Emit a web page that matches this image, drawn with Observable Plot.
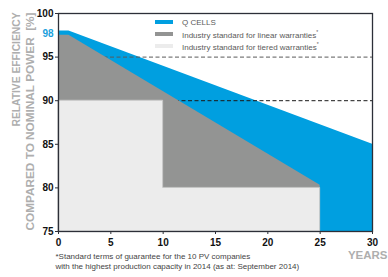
<!DOCTYPE html>
<html><head><meta charset="utf-8">
<script src="https://cdn.jsdelivr.net/npm/d3@7"></script>
<script src="https://cdn.jsdelivr.net/npm/@observablehq/plot@0.6"></script>
<style>
body{margin:0;background:#fff;}
#c{position:relative;width:388px;height:277px;overflow:hidden;font-family:"Liberation Sans",Arial,sans-serif;}
#legend{position:absolute;left:155px;top:16px;font-size:8px;color:#5a5a5a;}
#legend .row{display:flex;align-items:center;height:12px;}
#legend .sw{width:18px;height:4px;margin-right:9px;}
#legend sup{font-size:5px;vertical-align:4px;}
</style>
</head><body>
<div id="c"></div>
<script>
const qcellsYears = [0, 1, 30];
const qcellsValues = [98, 98, 85];
const linearYears = [0, 1, 25];
const linearValues = [97.5, 97.5, 80.3];
const tieredYears = [0, 10, 25];
const tieredValues = [90, 80, 80];
const dashedLevels = [95, 90];
const dashedColors = ["#5a5a5a", "#1a1a1a"];
const xTicks = [0, 5, 10, 15, 20, 25, 30];
const yTicks = [75, 80, 85, 90, 95, 100];
const highlightTick = [98];
const legendLabels = ["Q CELLS", "Industry standard for linear warranties", "Industry standard for tiered warranties"];
const legendColors = ["#009fe0", "#939493", "#ececec"];
const yTitle = ["RELATIVE EFFICIENCY", "COMPARED TO NOMINAL POWER  [%]"];
const xTitle = "YEARS";
const footnote = ["*Standard terms of guarantee for the 10 PV companies", "with the highest production capacity in 2014 (as at: September 2014)"];

const qcells = qcellsYears.map((x, i) => ({x, y: qcellsValues[i]}));
const linear = linearYears.map((x, i) => ({x, y: linearValues[i]}));
const tiered = tieredYears.map((x, i) => ({x, y: tieredValues[i]}));
const dashed = dashedLevels.map((y, i) => ({y, c: dashedColors[i]}));

const plot = Plot.plot({
  width: 388, height: 277,
  marginLeft: 58, marginRight: 16, marginTop: 13, marginBottom: 46,
  style: {fontFamily: "Liberation Sans, Arial, sans-serif", background: "#fff", overflow: "visible"},
  x: {domain: [0, 30]},
  y: {domain: [75, 100]},
  marks: [
    Plot.areaY(qcells, {x: "x", y1: 75, y2: "y", fill: legendColors[0]}),
    ...dashed.map(d => Plot.ruleY([d.y], {x1: 0, x2: 30, stroke: d.c, strokeWidth: 1, strokeDasharray: "4,2.5"})),
    Plot.areaY(linear, {x: "x", y1: 75, y2: "y", fill: legendColors[1]}),
    Plot.areaY(tiered, {x: "x", y1: 75, y2: "y", curve: "step-after", fill: legendColors[2], stroke: "#c6c6c6", strokeWidth: 0.8}),
    Plot.frame({stroke: "#2c2f38", strokeWidth: 1.3}),
    Plot.axisX({ticks: xTicks, tickSize: 3, tickPadding: 4, tickFormat: d => d, fontWeight: "bold", fontSize: 10, fill: "#111", stroke: "#2c2f38", label: null}),
    Plot.axisY({ticks: yTicks, tickSize: 3, tickPadding: 2, tickFormat: d => d, fontWeight: "bold", fontSize: 10, fill: "#111", stroke: "#2c2f38", label: null}),
    Plot.text(highlightTick, {x: 0, y: d => d, text: d => String(d), dx: -5, dy: 3, textAnchor: "end", fill: "#1a9fdc", fontWeight: "bold", fontSize: 10}),
    Plot.text([yTitle[0]], {frameAnchor: "top-left", rotate: -90, textAnchor: "end", dx: -47, dy: -1, fill: "#aeaeae", fontWeight: "bold", fontSize: 11.5, className: "ytitle1"}),
    Plot.text([yTitle[1]], {frameAnchor: "top-left", rotate: -90, textAnchor: "end", dx: -33, dy: -1, fill: "#aeaeae", fontWeight: "bold", fontSize: 11.5, className: "ytitle2"}),
    Plot.text([xTitle], {frameAnchor: "bottom-right", textAnchor: "end", dx: 15, dy: 27, fill: "#aeaeae", fontWeight: "bold", fontSize: 11.5}),
    Plot.text([footnote[0]], {frameAnchor: "bottom-left", textAnchor: "start", dx: -3, dy: 27, fill: "#444", fontSize: 8}),
    Plot.text([footnote[1]], {frameAnchor: "bottom-left", textAnchor: "start", dx: -3, dy: 37.5, fill: "#444", fontSize: 8})
  ]
});
// stretch the two rotated title lines to the lengths seen in the reference
[["ytitle1", 114], ["ytitle2", 218]].forEach(([cls, len]) => {
  plot.querySelectorAll(`.${cls} text`).forEach(t => {
    t.setAttribute("textLength", len);
    t.setAttribute("lengthAdjust", "spacingAndGlyphs");
  });
});
const c = document.getElementById("c");
c.appendChild(plot);
const lg = document.createElement("div");
lg.id = "legend";
legendLabels.forEach((t, i) => {
  const r = document.createElement("div");
  r.className = "row";
  r.innerHTML = `<span class="sw" style="background:${legendColors[i]}"></span><span>${t}${i > 0 ? "<sup>*</sup>" : ""}</span>`;
  lg.appendChild(r);
});
c.appendChild(lg);
</script>
</body></html>
